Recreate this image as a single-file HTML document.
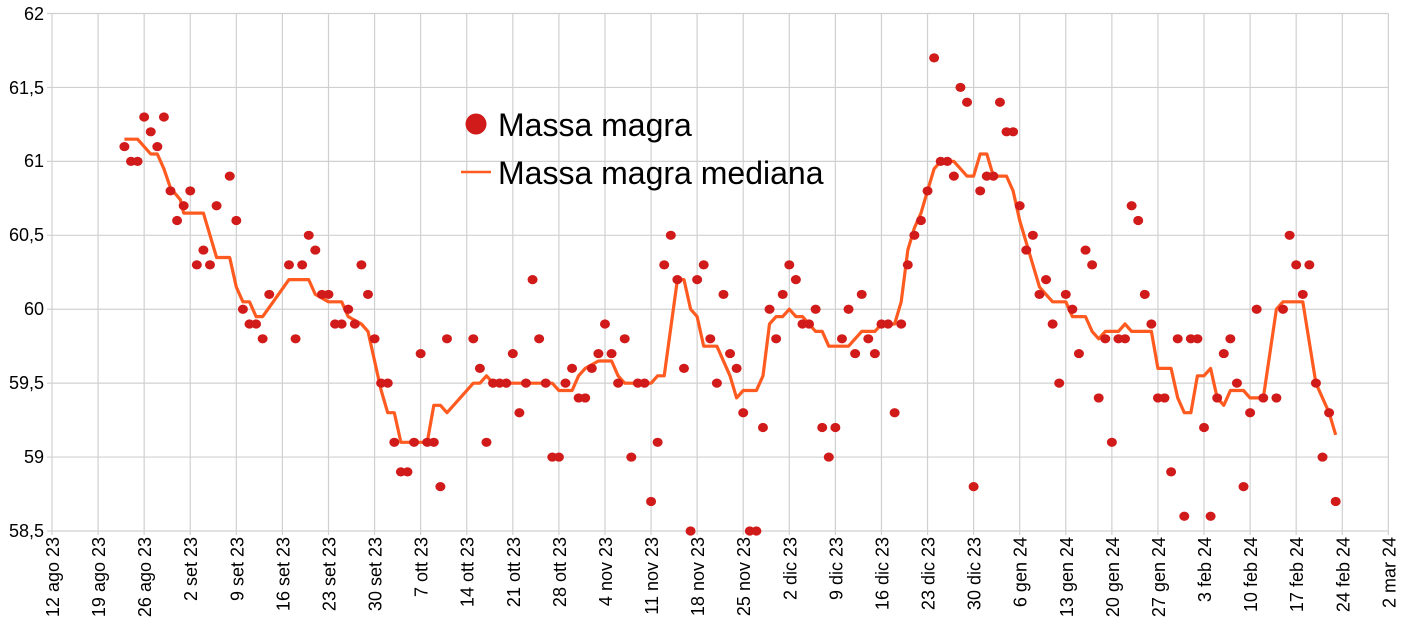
<!DOCTYPE html>
<html><head><meta charset="utf-8"><style>
html,body{margin:0;padding:0;background:#fff;width:1404px;height:635px;overflow:hidden}
svg{display:block}
text{font-family:"Liberation Sans",sans-serif;fill:#000}
</style></head><body>
<svg id="s" width="1404" height="635" viewBox="0 0 1404 635" xmlns="http://www.w3.org/2000/svg">
<g id="grid" stroke="#d0d0d0" stroke-width="1.2"></g>
<g font-size="18" text-anchor="end">
<text x="44" y="20">62</text>
<text x="44" y="94">61,5</text>
<text x="44" y="167">61</text>
<text x="44" y="241">60,5</text>
<text x="44" y="315">60</text>
<text x="44" y="389">59,5</text>
<text x="44" y="463">59</text>
<text x="44" y="537">58,5</text>
</g>
<g id="xl" font-size="18" text-anchor="end">
<text transform="translate(59,537) rotate(-90)">12 ago 23</text>
<text transform="translate(105.1,537) rotate(-90)">19 ago 23</text>
<text transform="translate(151.2,537) rotate(-90)">26 ago 23</text>
<text transform="translate(197.2,537) rotate(-90)">2 set 23</text>
<text transform="translate(243.3,537) rotate(-90)">9 set 23</text>
<text transform="translate(289.4,537) rotate(-90)">16 set 23</text>
<text transform="translate(335.5,537) rotate(-90)">23 set 23</text>
<text transform="translate(381.6,537) rotate(-90)">30 set 23</text>
<text transform="translate(427.7,537) rotate(-90)">7 ott 23</text>
<text transform="translate(473.7,537) rotate(-90)">14 ott 23</text>
<text transform="translate(519.8,537) rotate(-90)">21 ott 23</text>
<text transform="translate(565.9,537) rotate(-90)">28 ott 23</text>
<text transform="translate(612,537) rotate(-90)">4 nov 23</text>
<text transform="translate(658.1,537) rotate(-90)">11 nov 23</text>
<text transform="translate(704.2,537) rotate(-90)">18 nov 23</text>
<text transform="translate(750.2,537) rotate(-90)">25 nov 23</text>
<text transform="translate(796.3,537) rotate(-90)">2 dic 23</text>
<text transform="translate(842.4,537) rotate(-90)">9 dic 23</text>
<text transform="translate(888.5,537) rotate(-90)">16 dic 23</text>
<text transform="translate(934.6,537) rotate(-90)">23 dic 23</text>
<text transform="translate(980.7,537) rotate(-90)">30 dic 23</text>
<text transform="translate(1026.7,537) rotate(-90)">6 gen 24</text>
<text transform="translate(1072.8,537) rotate(-90)">13 gen 24</text>
<text transform="translate(1118.9,537) rotate(-90)">20 gen 24</text>
<text transform="translate(1165,537) rotate(-90)">27 gen 24</text>
<text transform="translate(1211.1,537) rotate(-90)">3 feb 24</text>
<text transform="translate(1257.2,537) rotate(-90)">10 feb 24</text>
<text transform="translate(1303.2,537) rotate(-90)">17 feb 24</text>
<text transform="translate(1349.3,537) rotate(-90)">24 feb 24</text>
<text transform="translate(1395.4,537) rotate(-90)">2 mar 24</text>
</g>
<polyline id="med" fill="none" stroke="#ff5a1f" stroke-width="3.2" stroke-linejoin="round"></polyline>
<g id="dots" fill="#d11a1a"></g>
<circle cx="476" cy="124" r="10.5" fill="#d11a1a"/>
<text x="498" y="136" font-size="32">Massa magra</text>
<line x1="461" y1="172" x2="491" y2="172" stroke="#ff5a1f" stroke-width="2.5"/>
<text x="498" y="184" font-size="32">Massa magra mediana</text>
</svg>
<script>
var NS="http://www.w3.org/2000/svg";
function X(d){return 52+6.583*d}
function Y(v){return 13.5+(62-v)*147.86}
var g=document.getElementById("grid");
function ln(x1,y1,x2,y2){var l=document.createElementNS(NS,"line");l.setAttribute("x1",x1);l.setAttribute("y1",y1);l.setAttribute("x2",x2);l.setAttribute("y2",y2);g.appendChild(l);}
for(var i=0;i<=29;i++){var x=X(i*7);ln(x,13.5,x,535);}
for(var j=0;j<=7;j++){var y=13.5+j*73.93;ln(47,y,X(203),y);}
var pts=[[11,61.1],[12,61],[13,61],[14,61.3],[15,61.2],[16,61.1],[17,61.3],[18,60.8],[19,60.6],[20,60.7],[21,60.8],[22,60.3],[23,60.4],[24,60.3],[25,60.7],[27,60.9],[28,60.6],[29,60],[30,59.9],[31,59.9],[32,59.8],[33,60.1],[36,60.3],[37,59.8],[38,60.3],[39,60.5],[40,60.4],[41,60.1],[42,60.1],[43,59.9],[44,59.9],[45,60],[46,59.9],[47,60.3],[48,60.1],[49,59.8],[50,59.5],[51,59.5],[52,59.1],[53,58.9],[54,58.9],[55,59.1],[56,59.7],[57,59.1],[58,59.1],[59,58.8],[60,59.8],[64,59.8],[65,59.6],[66,59.1],[67,59.5],[68,59.5],[69,59.5],[70,59.7],[71,59.3],[72,59.5],[73,60.2],[74,59.8],[75,59.5],[76,59],[77,59],[78,59.5],[79,59.6],[80,59.4],[81,59.4],[82,59.6],[83,59.7],[84,59.9],[85,59.7],[86,59.5],[87,59.8],[88,59],[89,59.5],[90,59.5],[91,58.7],[92,59.1],[93,60.3],[94,60.5],[95,60.2],[96,59.6],[97,58.5],[98,60.2],[99,60.3],[100,59.8],[101,59.5],[102,60.1],[103,59.7],[104,59.6],[105,59.3],[106,58.5],[107,58.5],[108,59.2],[109,60],[110,59.8],[111,60.1],[112,60.3],[113,60.2],[114,59.9],[115,59.9],[116,60],[117,59.2],[118,59],[119,59.2],[120,59.8],[121,60],[122,59.7],[123,60.1],[124,59.8],[125,59.7],[126,59.9],[127,59.9],[128,59.3],[129,59.9],[130,60.3],[131,60.5],[132,60.6],[133,60.8],[134,61.7],[135,61],[136,61],[137,60.9],[138,61.5],[139,61.4],[140,58.8],[141,60.8],[142,60.9],[143,60.9],[144,61.4],[145,61.2],[146,61.2],[147,60.7],[148,60.4],[149,60.5],[150,60.1],[151,60.2],[152,59.9],[153,59.5],[154,60.1],[155,60],[156,59.7],[157,60.4],[158,60.3],[159,59.4],[160,59.8],[161,59.1],[162,59.8],[163,59.8],[164,60.7],[165,60.6],[166,60.1],[167,59.9],[168,59.4],[169,59.4],[170,58.9],[171,59.8],[172,58.6],[173,59.8],[174,59.8],[175,59.2],[176,58.6],[177,59.4],[178,59.7],[179,59.8],[180,59.5],[181,58.8],[182,59.3],[183,60],[184,59.4],[186,59.4],[187,60],[188,60.5],[189,60.3],[190,60.1],[191,60.3],[192,59.5],[193,59],[194,59.3],[195,58.7]];
var dg=document.getElementById("dots");
pts.forEach(function(p){var e=document.createElementNS(NS,"ellipse");e.setAttribute("cx",X(p[0]));e.setAttribute("cy",Y(p[1]));e.setAttribute("rx",5);e.setAttribute("ry",4.6);dg.appendChild(e);});
var m=[[11,61.15],[13,61.15],[15,61.05],[16,61.05],[17,60.95],[18,60.82],[19.5,60.74],[20,60.65],[23,60.65],[25,60.35],[27,60.35],[28,60.15],[29,60.05],[30,60.05],[31,59.95],[32,59.95],[36,60.2],[39,60.2],[40,60.1],[42,60.05],[44,60.05],[45,59.95],[47,59.9],[48,59.85],[49,59.65],[50,59.45],[51,59.3],[52,59.3],[53,59.1],[57,59.1],[58,59.35],[59,59.35],[60,59.3],[64,59.5],[65,59.5],[66,59.55],[67,59.5],[76,59.5],[77,59.45],[79,59.45],[80,59.55],[81,59.6],[83,59.65],[85,59.65],[86,59.55],[87,59.5],[91,59.5],[92,59.55],[93,59.55],[95,60.2],[96,60.2],[97,60],[98,59.95],[99,59.75],[101,59.75],[103,59.55],[104,59.4],[105,59.45],[107,59.45],[108,59.55],[109,59.9],[110,59.95],[111,59.95],[112,60],[113,59.95],[114,59.95],[115,59.9],[116,59.85],[117,59.85],[118,59.75],[121,59.75],[122,59.8],[123,59.85],[125,59.85],[126,59.9],[128,59.9],[129,60.05],[130,60.4],[131,60.55],[132,60.65],[133,60.8],[134,60.95],[135,61],[137,61],[139,60.9],[140,60.9],[141,61.05],[142,61.05],[143,60.9],[145,60.9],[146,60.8],[147,60.6],[148,60.45],[149,60.3],[150,60.15],[151,60.1],[152,60.05],[154,60.05],[155,59.95],[157,59.95],[158,59.85],[159,59.8],[160,59.85],[162,59.85],[163,59.9],[164,59.85],[167,59.85],[168,59.6],[170,59.6],[171,59.4],[172,59.3],[173,59.3],[174,59.55],[175,59.55],[176,59.6],[177,59.4],[178,59.35],[179,59.45],[181,59.45],[182,59.4],[184,59.4],[186,60],[187,60.05],[190,60.05],[192,59.5],[194,59.3],[195,59.15]];
document.getElementById("med").setAttribute("points",m.map(function(p){return X(p[0]).toFixed(1)+","+Y(p[1]).toFixed(1)}).join(" "));
</script>
</body></html>
